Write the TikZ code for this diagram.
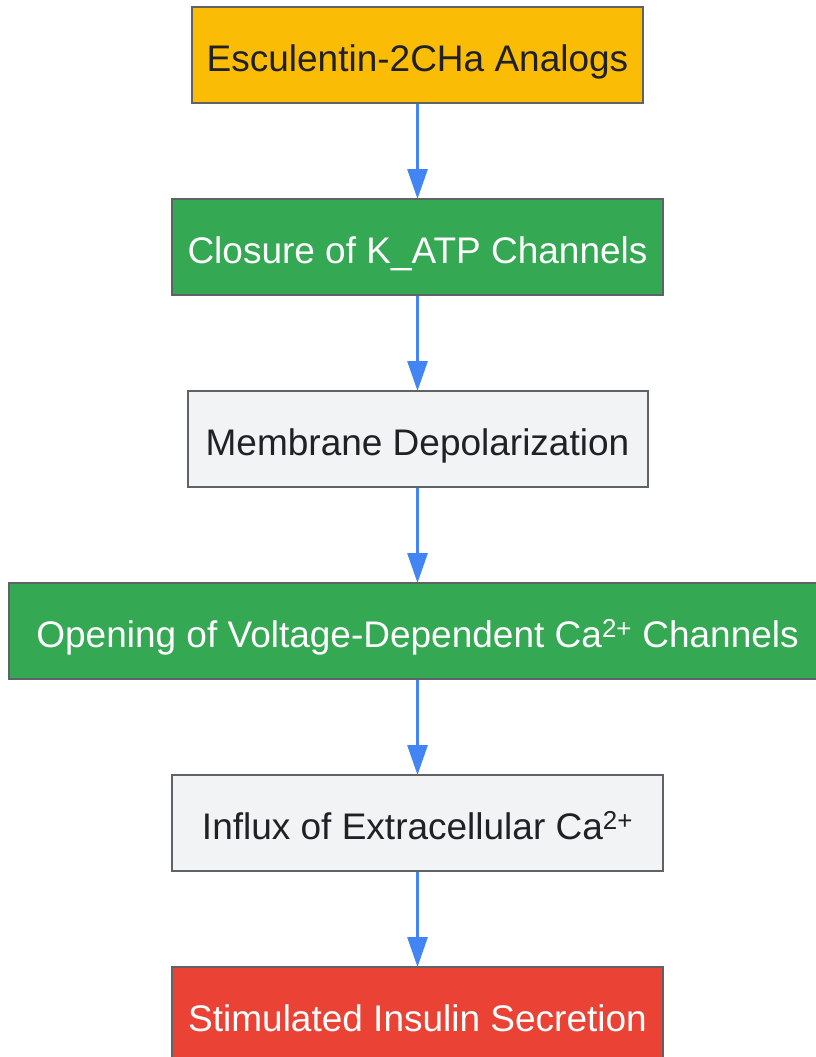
\documentclass[tikz,border=0pt]{standalone}
\usepackage{fontspec}
\setmainfont{Liberation Sans}
\usetikzlibrary{arrows.meta}
\definecolor{cyellow}{HTML}{FBBC05}
\definecolor{cgreen}{HTML}{34A853}
\definecolor{cgray}{HTML}{F1F3F4}
\definecolor{cred}{HTML}{EA4335}
\definecolor{cborder}{HTML}{5F6368}
\definecolor{carrow}{HTML}{4285F4}
\definecolor{ctext}{HTML}{202124}
\tikzset{
  box/.style={draw=cborder, line width=2pt, rectangle, inner sep=0pt, minimum height=96pt,
    text height=38pt, text depth=6pt,
    font=\fontsize{37pt}{40pt}\selectfont},
  yellowbox/.style={box, fill=cyellow, text=ctext},
  greenbox/.style={box, fill=cgreen, text=white},
  graybox/.style={box, fill=cgray, text=ctext},
  redbox/.style={box, fill=cred, text=white},
  conn/.style={draw=carrow, line width=3pt, -{Triangle[length=30pt,width=20pt]}, shorten >=-1pt}
}
\begin{document}
\begin{tikzpicture}[x=1pt,y=-1pt]
\useasboundingbox (0,0) rectangle (815,1057);
\node[yellowbox, minimum width=451pt] (a) at (417.5,55) {Esculentin-2CHa Analogs};
\node[greenbox, minimum width=491pt] (b) at (417.5,247) {Closure of K\_ATP Channels};
\node[graybox, minimum width=460pt] (c) at (417.5,439) {Membrane Depolarization};
\node[greenbox, minimum width=817pt] (d) at (417.5,631) {Opening of Voltage-Dependent Ca\textsuperscript{2+} Channels};
\node[graybox, minimum width=491pt] (e) at (417.5,823) {Influx of Extracellular Ca\textsuperscript{2+}};
\node[redbox, minimum width=491pt] (f) at (417.5,1015) {Stimulated Insulin Secretion};
\draw[conn] (a.south) -- (b.north);
\draw[conn] (b.south) -- (c.north);
\draw[conn] (c.south) -- (d.north);
\draw[conn] (d.south) -- (e.north);
\draw[conn] (e.south) -- (f.north);
\end{tikzpicture}
\end{document}
